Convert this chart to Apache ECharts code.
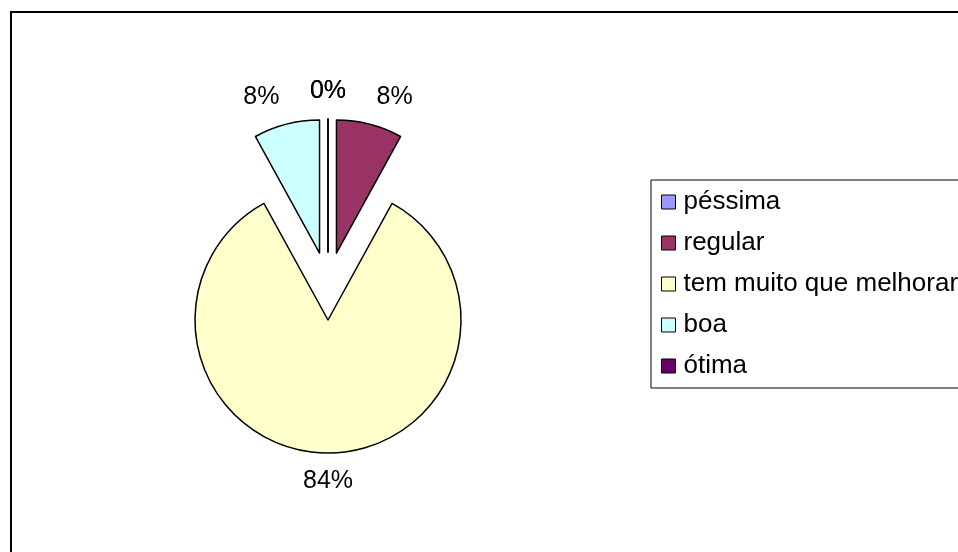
<!DOCTYPE html>
<html>
<head>
<meta charset="utf-8">
<script src="https://cdn.jsdelivr.net/npm/echarts@6/dist/echarts.min.js"></script>
<style>
  body { margin: 0; background: #fff; }
  #pie { width: 958px; height: 552px; }
</style>
</head>
<body>
<div id="pie"></div>
<script>
// dados do gráfico
const categories = ['péssima', 'regular', 'tem muito que melhorar', 'boa', 'ótima'];
const values = [0, 8, 84, 8, 0];
const colors = ['#9999FF', '#993366', '#FFFFCC', '#CCFFFF', '#660066'];

const fontFam = '"Liberation Sans", Arial, sans-serif';

const chart = echarts.init(document.getElementById('pie'));

const option = {
  animation: false,
  color: colors,
  graphic: [
    {
      // moldura externa
      type: 'rect',
      shape: { x: 11, y: 12, width: 1000, height: 600 },
      style: { fill: 'none', stroke: '#000', lineWidth: 2 },
      silent: true
    }
  ],
  legend: {
    orient: 'vertical',
    left: 651,
    top: 180,
    padding: [9, 40, 9, 10],
    itemWidth: 14,
    itemHeight: 14,
    itemGap: 15,
    borderColor: '#000',
    borderWidth: 1,
    icon: 'rect',
    itemStyle: { borderColor: '#000', borderWidth: 1 },
    textStyle: { fontFamily: fontFam, fontSize: 26, color: '#000', padding: [0, 0, 0, 3] },
    selectedMode: false,
    data: categories
  },
  series: [
    {
      type: 'pie',
      center: [328, 286],
      radius: 133,
      startAngle: 90,
      clockwise: true,
      selectedMode: 'multiple',
      selectedOffset: 34,
      avoidLabelOverlap: false,
      itemStyle: { borderColor: '#000', borderWidth: 1.5 },
      select: { itemStyle: { borderColor: '#000', borderWidth: 1.5 } },
      emphasis: { disabled: true },
      label: {
        show: true,
        position: 'outside',
        distanceToLabelLine: 0,
        fontFamily: fontFam,
        fontSize: 25,
        color: '#000',
        formatter: function (p) { return Math.round(p.percent) + '%'; }
      },
      labelLine: { show: false, length: 28, length2: 0 },
      labelLayout: function (p) {
        const pts = p.labelLinePoints;
        if (pts && Math.abs(pts[1][0] - pts[0][0]) < 1) {
          return { align: 'center' };
        }
        return {};
      },
      data: categories.map(function (name, i) {
        return { name: name, value: values[i], selected: true };
      })
    }
  ]
};

chart.setOption(option);
</script>
</body>
</html>
